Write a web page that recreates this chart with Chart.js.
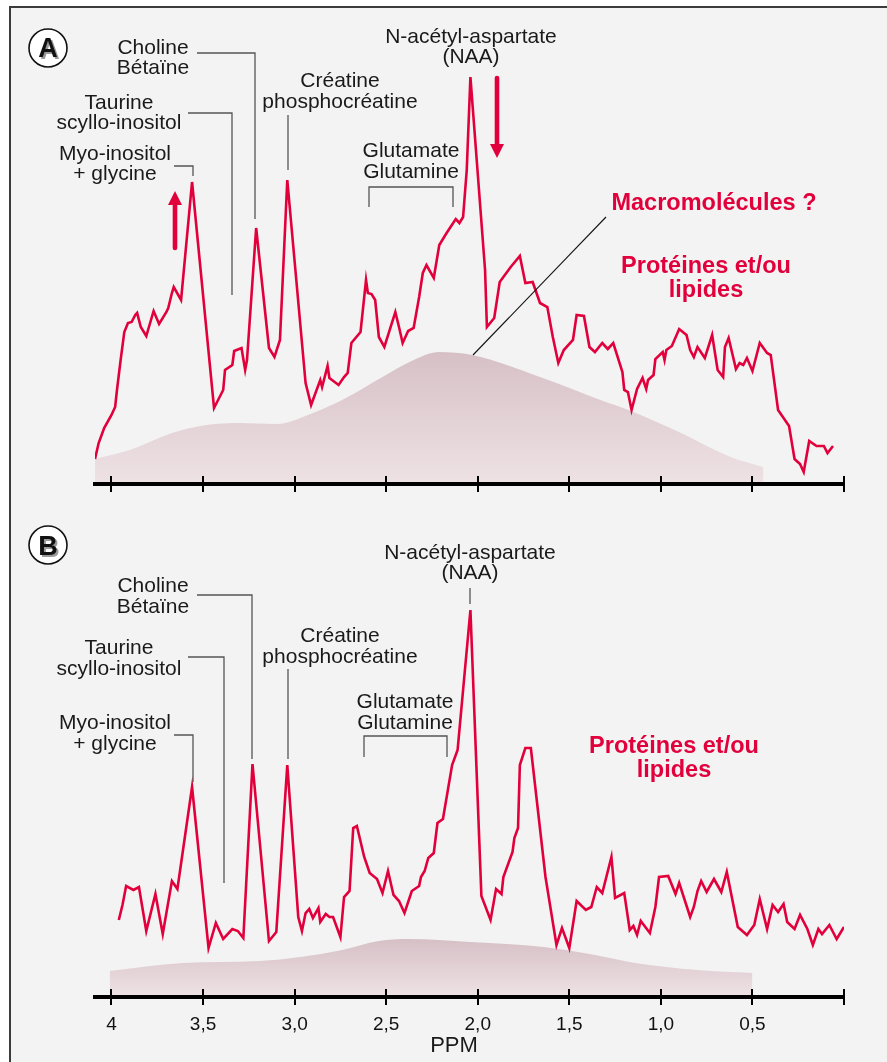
<!DOCTYPE html>
<html>
<head>
<meta charset="utf-8">
<script src="https://cdn.jsdelivr.net/npm/chart.js@4.4.1/dist/chart.umd.min.js"></script>
<style>
  html, body { margin: 0; padding: 0; background: #fff; }
  #page { position: relative; width: 887px; height: 1062px; overflow: hidden; }
  #bg { position: absolute; left: 9px; top: 6px; right: -4px; bottom: -4px; background: #f3f3f3;
        border-left: 2px solid #3c3c3c; border-top: 2px solid #3c3c3c; }
  canvas { position: absolute; left: 0; }
  #chartA { top: 0; }
  #chartB { top: 520px; }
  #notes { position: absolute; left: 0; top: 0; }
  #notes text { font-family: "Liberation Sans", Arial, sans-serif; }
</style>
</head>
<body>
<div id="page">
  <div id="bg"></div>
  <canvas id="chartA" width="887" height="520"></canvas>
  <canvas id="chartB" width="887" height="542"></canvas>
  <svg id="notes" width="887" height="1062">
    <!-- panel A -->
    <g fill="#1a1a1a" font-size="21" text-anchor="middle">
      <text x="153" y="54">Choline</text><text x="153" y="74">Bétaïne</text>
      <text x="119" y="109">Taurine</text><text x="119" y="129">scyllo-inositol</text>
      <text x="115" y="160">Myo-inositol</text><text x="115" y="180">+ glycine</text>
      <text x="340" y="87">Créatine</text><text x="340" y="108">phosphocréatine</text>
      <text x="471" y="43">N-acétyl-aspartate</text><text x="471" y="63">(NAA)</text>
      <text x="411" y="157">Glutamate</text><text x="411" y="178">Glutamine</text>
    </g>
    <g fill="none" stroke="#555" stroke-width="1.3">
      <polyline points="197,53 255,53 255,219"/>
      <polyline points="188,113 232,113 232,295"/>
      <polyline points="174,166 193,166 193,176"/>
      <polyline points="288,115 288,170"/>
      <polyline points="369,207 369,187 453,187 453,207"/>
      <line x1="473" y1="355" x2="606" y2="217" stroke="#111" stroke-width="1.1"/>
    </g>
    <g fill="#e1003b" font-size="23.5" font-weight="bold" text-anchor="middle">
      <text x="714" y="210">Macromolécules ?</text>
      <text x="706" y="273">Protéines et/ou</text><text x="706" y="297">lipides</text>
    </g>
    <g stroke="#e1003b" stroke-width="4.6" stroke-linecap="round" fill="#e1003b">
      <line x1="175" y1="248" x2="175" y2="203"/>
      <polygon points="175,191 168,205 182,205" stroke="none"/>
      <line x1="497" y1="78" x2="497" y2="146"/>
      <polygon points="497,158 490,144 504,144" stroke="none"/>
    </g>
    <!-- panel B -->
    <g fill="#1a1a1a" font-size="21" text-anchor="middle">
      <text x="153" y="592">Choline</text><text x="153" y="613">Bétaïne</text>
      <text x="119" y="654">Taurine</text><text x="119" y="675">scyllo-inositol</text>
      <text x="115" y="729">Myo-inositol</text><text x="115" y="750">+ glycine</text>
      <text x="340" y="642">Créatine</text><text x="340" y="663">phosphocréatine</text>
      <text x="470" y="559">N-acétyl-aspartate</text><text x="470" y="579">(NAA)</text>
      <text x="405" y="708">Glutamate</text><text x="405" y="729">Glutamine</text>
      <text x="454" y="1052" font-size="22">PPM</text>
    </g>
    <g fill="none" stroke="#555" stroke-width="1.3">
      <polyline points="197,595 252,595 252,759"/>
      <polyline points="188,657 224,657 224,883"/>
      <polyline points="174,735 193,735 193,782"/>
      <polyline points="288,669 288,759"/>
      <polyline points="364,757 364,736 447,736 447,757"/>
      <polyline points="470,588 470,604"/>
    </g>
    <g fill="#e1003b" font-size="23.5" font-weight="bold" text-anchor="middle">
      <text x="674" y="753">Protéines et/ou</text><text x="674" y="777">lipides</text>
    </g>
    <!-- panel badges -->
    <g font-size="27" font-weight="bold" text-anchor="middle">
      <circle cx="48" cy="48" r="19" fill="#fff" stroke="#111" stroke-width="1.6"/>
      <text x="50" y="59" fill="#9a9a9a">A</text><text x="48" y="57" fill="#111">A</text>
      <circle cx="48" cy="545" r="19" fill="#fff" stroke="#111" stroke-width="1.6"/>
      <text x="50" y="557" fill="#9a9a9a">B</text><text x="48" y="555" fill="#111">B</text>
    </g>
  </svg>
</div>
<script>
// ppm axis
const ppmTicks = [4, 3.5, 3, 2.5, 2, 1.5, 1, 0.5, 0];
const tickLabels = ['4', '3,5', '3,0', '2,5', '2,0', '1,5', '1,0', '0,5', ''];

// spectrum A
const ppmA = [4.09, 4.07, 4.04, 4.00, 3.98, 3.97, 3.95, 3.93, 3.91, 3.89, 3.87, 3.86, 3.84, 3.81, 3.77, 3.74, 3.70, 3.69, 3.67, 3.66,
  3.62, 3.56, 3.44, 3.39, 3.38, 3.34, 3.33, 3.29, 3.27, 3.26, 3.21, 3.14, 3.11, 3.08, 3.04, 2.94, 2.91, 2.86, 2.85, 2.82,
  2.81, 2.76, 2.73, 2.71, 2.69, 2.64, 2.61, 2.60, 2.58, 2.56, 2.54, 2.51, 2.45, 2.43, 2.41, 2.38, 2.35, 2.32, 2.30, 2.28,
  2.24, 2.21, 2.17, 2.12, 2.10, 2.08, 2.06, 2.04, 1.96, 1.95, 1.91, 1.88, 1.82, 1.77, 1.74, 1.70, 1.66, 1.62, 1.59, 1.56,
  1.53, 1.48, 1.46, 1.42, 1.39, 1.36, 1.32, 1.29, 1.26, 1.21, 1.20, 1.18, 1.16, 1.13, 1.10, 1.08, 1.07, 1.04, 1.03, 0.99,
  0.98, 0.97, 0.94, 0.90, 0.86, 0.84, 0.82, 0.80, 0.76, 0.72, 0.69, 0.66, 0.65, 0.63, 0.59, 0.57, 0.55, 0.53, 0.50, 0.46,
  0.42, 0.40, 0.36, 0.30, 0.27, 0.24, 0.22, 0.19, 0.15, 0.11, 0.09, 0.06];
const intensityA = [25, 41, 56, 69, 77, 94, 124, 152, 161, 162, 169, 171, 157, 148, 173, 160, 172, 176, 191, 197,
  184, 302, 76, 94, 114, 119, 133, 136, 114, 124, 256, 136, 127, 144, 304, 101, 79, 104, 97, 118,
  106, 99, 107, 111, 141, 152, 204, 191, 190, 184, 147, 137, 172, 157, 141, 153, 156, 187, 211, 219,
  206, 239, 251, 265, 261, 267, 314, 407, 214, 157, 166, 202, 217, 228, 201, 202, 181, 177, 147, 121,
  134, 144, 169, 168, 137, 132, 141, 135, 141, 112, 94, 92, 74, 95, 106, 95, 104, 109, 125, 132,
  124, 134, 138, 155, 149, 134, 127, 137, 126, 149, 114, 107, 137, 146, 115, 121, 119, 126, 113, 141,
  131, 129, 74, 58, 25, 20, 12, 43, 38, 38, 31, 38];
// macromolecule background A
const macroPpmA = [4.09, 3.90, 3.67, 3.48, 3.30, 3.10, 2.90, 2.72, 2.53, 2.35, 2.21, 2.03, 1.66, 1.33, 1.15, 0.89, 0.62, 0.44];
const macroA = [25, 34, 51, 59, 61, 60, 71, 86, 106, 124, 132, 129, 107, 84, 72, 51, 27, 17];

// spectrum B
const ppmB = [3.96, 3.94, 3.92, 3.88, 3.85, 3.81, 3.76, 3.72, 3.67, 3.64, 3.56, 3.47, 3.43, 3.39, 3.34, 3.31, 3.28, 3.23, 3.14, 3.10,
  3.04, 2.98, 2.96, 2.94, 2.92, 2.90, 2.87, 2.86, 2.83, 2.81, 2.79, 2.75, 2.73, 2.70, 2.68, 2.66, 2.62, 2.59, 2.55, 2.52,
  2.49, 2.46, 2.43, 2.40, 2.36, 2.32, 2.31, 2.29, 2.27, 2.24, 2.22, 2.19, 2.14, 2.11, 2.04, 1.98, 1.93, 1.90, 1.87, 1.86,
  1.81, 1.80, 1.78, 1.77, 1.74, 1.71, 1.63, 1.57, 1.54, 1.50, 1.46, 1.41, 1.38, 1.35, 1.32, 1.27, 1.25, 1.20, 1.17, 1.15,
  1.13, 1.11, 1.06, 1.03, 1.01, 0.96, 0.92, 0.90, 0.84, 0.82, 0.80, 0.78, 0.75, 0.71, 0.67, 0.64, 0.58, 0.53, 0.49, 0.46,
  0.42, 0.39, 0.36, 0.33, 0.31, 0.27, 0.24, 0.20, 0.17, 0.14, 0.12, 0.08, 0.04, 0.00];
const intensityB = [77, 92, 111, 107, 110, 66, 103, 63, 116, 108, 210, 49, 74, 58, 68, 66, 59, 233, 56, 65,
  232, 80, 66, 84, 88, 79, 89, 75, 83, 80, 80, 60, 100, 106, 169, 171, 140, 124, 118, 104,
  126, 102, 96, 84, 106, 111, 120, 126, 139, 144, 174, 178, 232, 247, 387, 101, 77, 108, 103, 120,
  145, 159, 169, 232, 249, 249, 120, 52, 69, 49, 96, 87, 90, 110, 104, 140, 99, 104, 67, 71,
  62, 76, 64, 90, 120, 121, 103, 114, 80, 90, 106, 116, 105, 118, 105, 125, 70, 62, 72, 98,
  68, 92, 85, 93, 75, 68, 82, 68, 52, 68, 63, 72, 58, 70];
// macromolecule background B
const macroPpmB = [4.01, 3.61, 3.19, 2.97, 2.74, 2.54, 2.38, 2.04, 1.64, 1.36, 1.14, 0.80, 0.50];
const macroB = [26, 34, 36, 40, 47, 56, 58, 55, 50, 42, 34, 27, 24];

const RED = '#e1003b';

// tick marks crossing the thick axis line (above and below)
const tickMarks = {
  id: 'tickMarks',
  afterDraw(chart) {
    const sx = chart.scales.x;
    const y0 = chart.chartArea.bottom;
    const ctx = chart.ctx;
    ctx.save();
    ctx.strokeStyle = '#000';
    ctx.lineWidth = 2;
    sx.ticks.forEach(t => {
      const px = Math.round(sx.getPixelForValue(t.value));
      ctx.beginPath();
      ctx.moveTo(px, y0 - 8);
      ctx.lineTo(px, y0 + 8);
      ctx.stroke();
    });
    ctx.restore();
  }
};

const toPoints = (xs, ys) => xs.map((x, i) => ({ x: x, y: ys[i] }));

function makePanel(id, ppm, vals, mPpm, mVals, canvasTop, canvasH, axisY, topY, showLabels) {
  const peak = Math.max(...mVals);
  const macroFill = (c) => {
    const { ctx, chartArea, scales } = c.chart;
    if (!chartArea) return '#e3d2d7';
    const g = ctx.createLinearGradient(0, scales.y.getPixelForValue(peak), 0, chartArea.bottom);
    g.addColorStop(0, '#d6c0c6');
    g.addColorStop(1, '#eee2e5');
    return g;
  };
  return new Chart(document.getElementById(id), {
    type: 'line',
    data: {
      datasets: [
        {
          data: toPoints(ppm, vals),
          borderColor: RED,
          borderWidth: 2.6,
          pointRadius: 0,
          tension: 0,
          fill: false,
          order: 1
        },
        {
          data: toPoints(mPpm, mVals),
          borderWidth: 0,
          borderColor: 'rgba(0,0,0,0)',
          backgroundColor: macroFill,
          pointRadius: 0,
          cubicInterpolationMode: 'monotone',
          fill: 'origin',
          order: 2
        }
      ]
    },
    options: {
      responsive: false,
      animation: false,
      events: [],
      layout: { padding: { left: 95, right: 43, top: topY - canvasTop, bottom: 0 } },
      plugins: { legend: { display: false }, tooltip: { enabled: false } },
      scales: {
        x: {
          type: 'linear',
          reverse: true,
          min: 0,
          max: 4.09,
          z: 1,
          afterBuildTicks: s => { s.ticks = ppmTicks.map(v => ({ value: v })); },
          afterFit: s => { s.height = canvasTop + canvasH - axisY; },
          grid: { display: true, drawOnChartArea: false, drawTicks: false, color: 'rgba(0,0,0,0)', z: 1 },
          border: { display: true, color: '#000', width: 4, z: 1 },
          ticks: {
            display: showLabels,
            z: 1,
            autoSkip: false,
            maxRotation: 0,
            padding: 16,
            color: '#111',
            font: { family: 'Liberation Sans', size: 19 },
            callback: (v, i) => tickLabels[i]
          }
        },
        y: { display: false, min: 0, max: axisY - topY }
      }
    },
    plugins: [tickMarks]
  });
}

makePanel('chartA', ppmA, intensityA, macroPpmA, macroA, 0, 520, 484, 60, false);
makePanel('chartB', ppmB, intensityB, macroPpmB, macroB, 520, 542, 997, 560, true);
</script>
</body>
</html>
